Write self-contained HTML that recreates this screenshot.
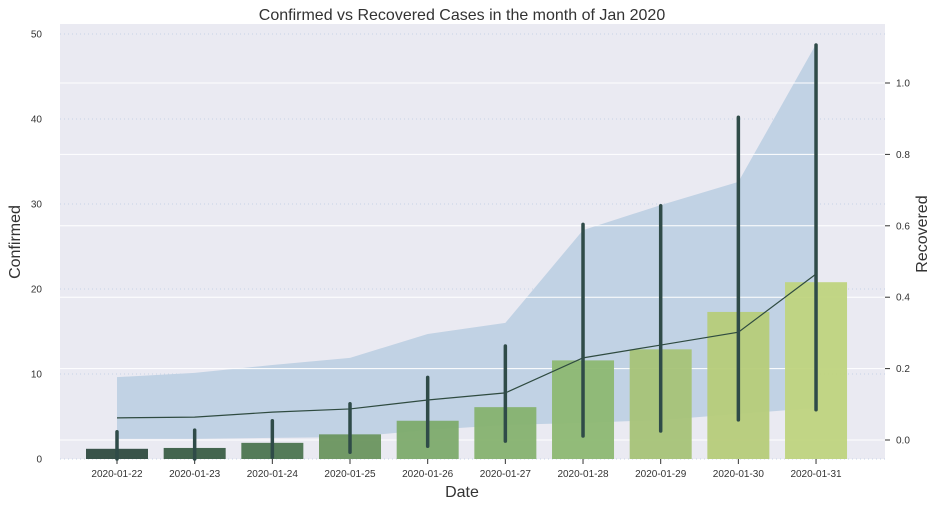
<!DOCTYPE html>
<html><head><meta charset="utf-8"><style>
body{margin:0;background:#fff;font-family:"Liberation Sans",sans-serif}
</style></head><body>
<svg id="c" width="935" height="505" font-family="Liberation Sans, sans-serif"></svg>
<script>
const categories=["2020-01-22","2020-01-23","2020-01-24","2020-01-25","2020-01-26","2020-01-27","2020-01-28","2020-01-29","2020-01-30","2020-01-31"];
const confirmed=[1.2,1.3,1.9,2.9,4.5,6.1,11.6,12.9,17.3,20.8];
const confLow=[0,0,0.2,0.8,1.5,2.1,2.7,3.3,4.6,5.8];
const confHigh=[3.2,3.4,4.5,6.5,9.6,13.3,27.6,29.8,40.2,48.7];
const recovered=[0.062,0.064,0.078,0.087,0.112,0.132,0.23,0.266,0.302,0.465];
const recLow=[0.003,0.003,0.006,0.008,0.028,0.042,0.048,0.056,0.073,0.09];
const recHigh=[0.176,0.188,0.21,0.23,0.297,0.328,0.588,0.658,0.723,1.109];
const leftTicks=[0,10,20,30,40,50];
const rightTicks=[0,0.2,0.4,0.6,0.8,1.0];
const colors=["#2f4b40","#3a5e46","#4c7550","#6a955e","#7dab6b","#86b26f","#8db872","#a6c377","#b6cc79","#bfd47e"];
const NS="http://www.w3.org/2000/svg";
const svg=document.getElementById('c');
function el(t,a,p){const e=document.createElementNS(NS,t);for(const k in a)e.setAttribute(k,a[k]);(p||svg).appendChild(e);return e;}
const L=60,R=885,T=24,B=459;
const x=i=>117+i*77.67;
const yl=v=>459-v*8.5;
const yr=v=>440-v*357;
let bg=el('rect',{x:L,y:T,width:R-L,height:B-T,fill:'#eaeaf2'});


leftTicks.forEach(t=>{
  let g=el('line',{x1:L,x2:R,y1:yl(t),y2:yl(t),stroke:'#c5d3e6','stroke-dasharray':'1,3'});
  
  
  let tx=el('text',{x:L-18,y:yl(t)+3.5,'font-size':10,fill:'#333','text-anchor':'end'});
  tx.textContent=t;
  
  
});
let pts=recHigh.map((v,i)=>x(i)+','+yr(v)).concat(recLow.map((v,i)=>x(i)+','+yr(v)).reverse());
let band=el('polygon',{points:pts.join(' '),fill:'#c1d2e4'});


rightTicks.forEach(t=>{
  let g=el('line',{x1:L,x2:R,y1:yr(t),y2:yr(t),stroke:'#fff','stroke-width':1});
  
  
  el('line',{x1:R,x2:R+5,y1:yr(t),y2:yr(t),stroke:'#333'});
  let tx=el('text',{x:R+11,y:yr(t)+3.5,'font-size':10,fill:'#333'});
  tx.textContent=t.toFixed(1);
  
  
});
categories.forEach((c,i)=>{
  let b=el('rect',{x:x(i)-31,y:yl(confirmed[i]),width:62,height:B-yl(confirmed[i]),fill:colors[i],opacity:0.95});
  
  
  el('line',{x1:x(i),x2:x(i),y1:B,y2:B+5,stroke:'#333'});
  let tx=el('text',{x:x(i),y:477,'font-size':10,fill:'#333','text-anchor':'middle'});
  tx.textContent=c;
  
  
});
let lp=el('polyline',{points:recovered.map((v,i)=>x(i)+','+yr(v)).join(' '),fill:'none',stroke:'#2f4b40','stroke-width':1.2});


categories.forEach((c,i)=>{
  let e=el('line',{x1:x(i),x2:x(i),y1:yl(confHigh[i]),y2:yl(confLow[i]),stroke:'#2f4b48','stroke-width':3.5,'stroke-linecap':'round'});
  
  
});
let t=el('text',{x:462,y:20,'font-size':16,fill:'#333','text-anchor':'middle'});
t.textContent='Confirmed vs Recovered Cases in the month of Jan 2020';


let xl=el('text',{x:462,y:497,'font-size':16,fill:'#333','text-anchor':'middle'});
xl.textContent='Date';


let yl1=el('text',{x:0,y:0,'font-size':16,fill:'#333','text-anchor':'middle',transform:'translate(20,242) rotate(-90)'});
yl1.textContent='Confirmed';


let yr1=el('text',{x:0,y:0,'font-size':16,fill:'#333','text-anchor':'middle',transform:'translate(927,234) rotate(-90)'});
yr1.textContent='Recovered';


</script>
</body></html>
